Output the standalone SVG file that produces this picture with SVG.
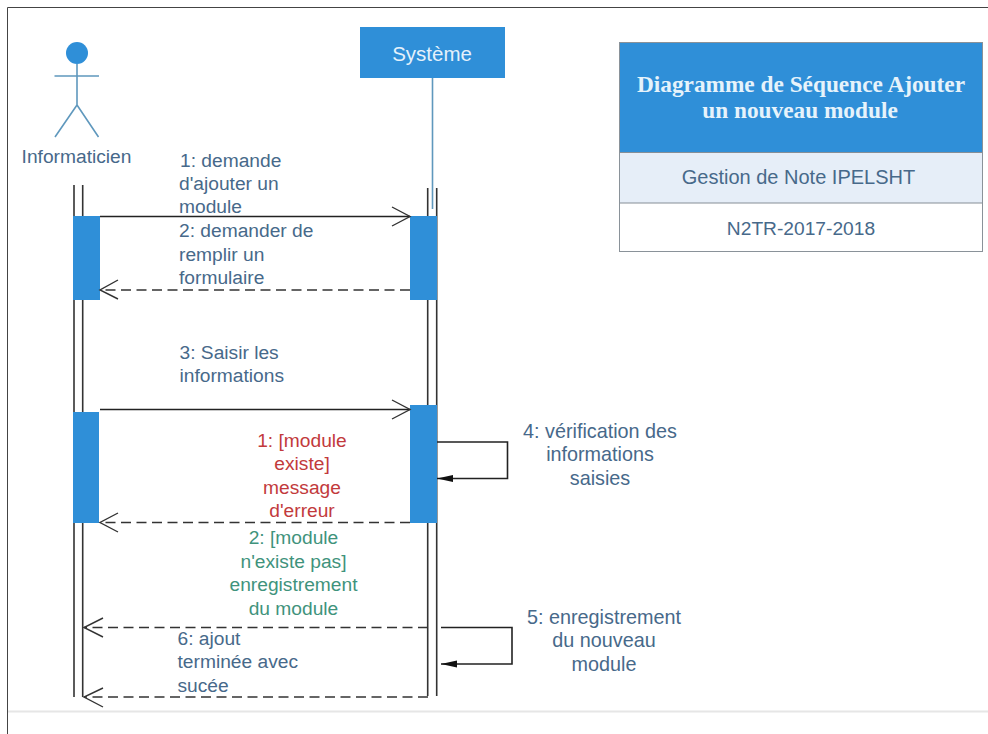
<svg xmlns="http://www.w3.org/2000/svg" width="988" height="734" viewBox="0 0 988 734">
<defs>
<style>
text{font-family:"Liberation Sans",Arial,sans-serif;font-size:19.2px;fill:#47698a}
.m{text-anchor:middle}
.w{font-size:19.8px}
.red{fill:#c23a3c}
.green{fill:#3f937c}
.serif{font-family:"Liberation Serif",serif;font-weight:bold;font-size:23.3px;fill:#e6f3fb}
.life{stroke:#333;stroke-width:1.6;fill:none}
.act{fill:#2f8fd8}
.solid{stroke:#222;stroke-width:1.6;fill:none}
.dash{stroke:#333;stroke-width:1.6;fill:none;stroke-dasharray:10 5.500}
.open{stroke:#333;stroke-width:1.4;fill:none}
.actor{stroke:#5f98bd;stroke-width:1.6;fill:none}
</style>
<marker id="tri" markerUnits="userSpaceOnUse" markerWidth="17" markerHeight="10" refX="16" refY="5" orient="auto"><path d="M0 1.500L16 5L0 8.500Z" fill="#111"/></marker>
</defs>
<rect width="988" height="734" fill="#fff"/>
<path d="M988 7.500H7.500V734" fill="none" stroke="#444" stroke-width="1"/>
<path d="M8 711.500H988" stroke="#e6e6e6" stroke-width="2" fill="none"/>

<g id="actor-informaticien">
<circle cx="77" cy="53" r="11" fill="#2f8fd8"/>
<path class="actor" d="M77 64V105M54.500 76H99M77 105L55 137M77 105L98.500 137"/>
<text class="m" x="76.500" y="163">Informaticien</text>
</g>
<g id="lifeline-informaticien">
<path class="life" d="M74 185V697M82.700 185V697"/>
</g>
<g id="systeme">
<rect x="360" y="27" width="145" height="51" fill="#2f8fd8"/>
<text class="m" x="432" y="61" style="fill:#e4f1fb;font-size:20.5px">Système</text>
<path class="actor" d="M432.500 78V209"/>
</g>
<g id="lifeline-systeme">
<path class="life" d="M427.700 188V696M436.700 188V696"/>
</g>

<g id="activations">
<rect class="act" x="73" y="216" width="27" height="84"/>
<rect class="act" x="410" y="216" width="27" height="84"/>
<rect class="act" x="73" y="412" width="26" height="111"/>
<rect class="act" x="410" y="405" width="27" height="118"/>
</g>

<g id="connectors">
<path class="solid" d="M100 216.500H410"/><path class="open" d="M392 207L410 216.500L392 226"/>
<path class="dash" d="M410 290H100"/><path class="open" d="M118 280L100 290L118 299"/>
<path class="solid" d="M100 409.500H410"/><path class="open" d="M392 400L410 409.500L392 419"/>
<path class="dash" d="M410 522.500H100"/><path class="open" d="M118 513L100 522.500L118 532"/>
<path class="solid" d="M437 442H507.500V478.500H437" marker-end="url(#tri)"/>
<path class="dash" d="M428 627.500H84"/><path class="open" d="M103 618L84 627.500L103 637"/>
<path class="solid" d="M441 627.500H512V664H441" marker-end="url(#tri)"/>
<path class="dash" d="M428 697H84"/><path class="open" d="M103 688L84 697L103 707"/>
</g>

<g id="labels">
<text x="180" y="167">1: demande</text>
<text x="179" y="190">d'ajouter un</text>
<text x="179" y="213">module</text>
<text x="179" y="237">2: demander de</text>
<text x="179" y="261">remplir un</text>
<text x="179" y="284">formulaire</text>
<text x="179.500" y="359">3: Saisir les</text>
<text x="179.500" y="382">informations</text>
<text class="m red" x="302" y="447">1: [module</text>
<text class="m red" x="302" y="470">existe]</text>
<text class="m red" x="302" y="494">message</text>
<text class="m red" x="302" y="517">d'erreur</text>
<text class="m green" x="293.500" y="544">2: [module</text>
<text class="m green" x="293.500" y="568">n'existe pas]</text>
<text class="m green" x="293.500" y="591">enregistrement</text>
<text class="m green" x="293.500" y="615">du module</text>
<text x="177.500" y="645">6: ajout</text>
<text x="177.500" y="668">terminée avec</text>
<text x="177.500" y="692">sucée</text>
<text class="m w" x="600" y="438">4: vérification des</text>
<text class="m w" x="600" y="461">informations</text>
<text class="m w" x="600" y="485">saisies</text>
<text class="m w" x="604" y="624">5: enregistrement</text>
<text class="m w" x="604" y="647">du nouveau</text>
<text class="m w" x="604" y="671">module</text>
</g>

<g id="title-block">
<rect x="619.500" y="42.500" width="363" height="209" fill="#fff" stroke="#8a9299" stroke-width="1"/>
<rect x="620" y="43" width="362" height="109" fill="#2f8fd8"/>
<rect x="620" y="153" width="362" height="50" fill="#e6eef8"/>
<path d="M620 152.500H982M620 203H982" stroke="#868e96" stroke-width="1.200" fill="none"/>
<text class="m serif" x="801" y="92">Diagramme de Séquence Ajouter</text>
<text class="m serif" x="800" y="118">un nouveau module</text>
<text class="m w" x="798.500" y="184" style="font-size:20px">Gestion de Note IPELSHT</text>
<text class="m" x="801" y="235">N2TR-2017-2018</text>
</g>
</svg>
